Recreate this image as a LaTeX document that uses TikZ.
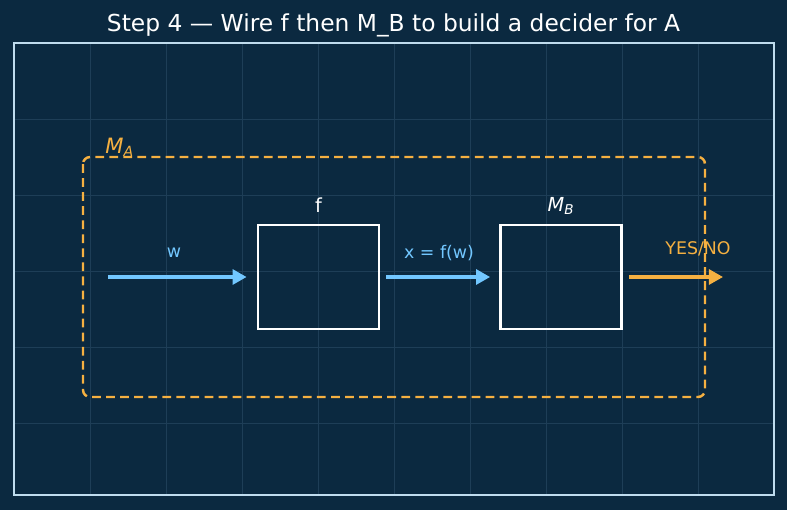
\documentclass[tikz,border=0pt]{standalone}
\usepackage{fontspec}
\setmainfont{DejaVu Sans}
\usepackage{xcolor}
\usetikzlibrary{arrows.meta,positioning,calc}
\definecolor{cBack}{HTML}{0B2940}
\definecolor{cGrid}{HTML}{1E3E57}
\definecolor{cFrame}{HTML}{BFDCEE}
\definecolor{cSky}{HTML}{72C7FF}
\definecolor{cAmber}{HTML}{F5B041}
\tikzset{
  blockbox/.style={draw=white,line width=1.6pt,minimum width=#1,minimum height=1.04cm*2,inner sep=0pt},
  blockbox/.default={2.42cm},
  skyarr/.style={-{Triangle[length=8pt,width=8.5pt]},line width=1.8pt,color=cSky},
  amberarr/.style={-{Triangle[length=8pt,width=8.5pt]},line width=1.8pt,color=cAmber},
  lbl/.style={font=\fontsize{9.9}{11}\selectfont,inner sep=1pt},
  ttl/.style={font=\fontsize{11}{13}\selectfont,text=white,inner sep=1pt},
}
\begin{document}
\begin{tikzpicture}[x=0.02cm,y=-0.02cm]
  % background and frame
  \fill[cBack] (0,0) rectangle (787,510);
  \useasboundingbox (0,0) rectangle (787,510);
  \foreach \x in {90,166,242,318,394,470,546,622,698}{
    \draw[cGrid,line width=0.4pt] (\x,43) -- (\x,495);}
  \foreach \y in {119,195,271,347,423}{
    \draw[cGrid,line width=0.4pt] (14,\y) -- (774,\y);}
  \draw[cFrame,line width=1pt] (14,43) rectangle (774,495);
  \node[font=\fontsize{13.3}{15}\selectfont,text=white] (title) at (393.5,25) {Step 4 — Wire f then M\_B to build a decider for A};
  % outer machine
  \draw[cAmber,line width=1.4pt,dashed,dash pattern=on 5pt off 3pt,rounded corners=4pt] (83,157) rectangle (705,397);
  \node[font=\fontsize{12}{14}\selectfont,text=cAmber,anchor=south west,inner sep=0pt] (ma) at (105,157) {\textit{M}\textsubscript{\textit{A}}};
  % blocks
  \node[blockbox] (f) at (318.5,277) {};
  \node[blockbox] (mb) at (561,277) {};
  \node[ttl,above=5pt of f] (flbl) {f};
  \node[ttl,above=4pt of mb] (mblbl) {\textit{M}\textsubscript{\textit{B}}};
  % wires
  \coordinate (in) at (108,277);
  \coordinate (out) at (723,277);
  \draw[skyarr] (in) -- ($(f.west)+(-10,0)$);
  \draw[skyarr] ($(f.east)+(6,0)$) -- ($(mb.west)+(-9,0)$);
  \draw[amberarr] ($(mb.east)+(6,0)$) -- (out);
  \node[lbl,text=cSky] (wlbl) at (174,253) {w};
  \node[lbl,text=cSky] (xlbl) at (439,253) {x = f(w)};
  \node[lbl,text=cAmber] (yn) at (698,249) {YES/NO};
\end{tikzpicture}
\end{document}
